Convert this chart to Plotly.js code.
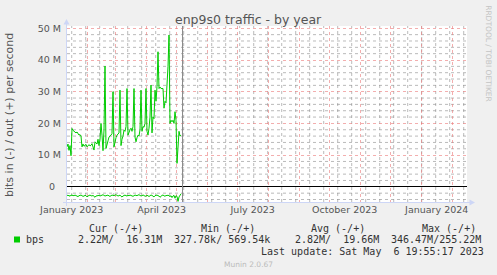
<!DOCTYPE html>
<html><head><meta charset="utf-8">
<script src="https://cdn.plot.ly/plotly-3.0.1.min.js"></script>
<style>html,body{margin:0;padding:0;background:#F0F0F0;}#chart{width:497px;height:275px;}</style>
</head><body><div id="chart"></div>
<script>
// ---- data (values in M bits/s, one per day) ----
const startDate = Date.UTC(2023, 0, 11, 7, 0);
const outBps = [
 12.6,13.5,11.5,13.0,9.8,18.4,17.8,17.5,17.2,17.0,
 17.3,16.6,16.3,16.5,16.0,12.6,13.5,12.8,13.2,13.4,
 12.6,13.0,13.3,12.9,13.1,13.6,12.5,11.6,14.2,13.8,
 13.5,15.0,13.0,15.0,20.0,16.3,11.4,18.0,38.1,12.1,
 13.0,14.5,15.7,15.9,16.3,16.8,30.0,12.6,14.5,15.5,
 16.3,16.7,17.0,30.5,13.0,15.0,16.0,17.9,17.5,19.0,
 31.0,16.3,17.5,18.0,18.5,17.5,19.0,31.0,15.7,14.2,
 15.5,16.3,16.0,18.0,30.5,17.5,19.0,18.8,20.0,31.0,
 17.5,16.3,18.5,22.0,32.1,17.0,22.0,21.5,30.5,27.0,
 31.6,42.6,31.0,31.5,31.0,31.0,31.0,24.8,27.0,26.5,
 31.0,38.0,47.9,20.0,21.0,20.5,21.0,20.0,23.7,21.0,
 7.4,15.0,17.5,16.0,16.3
];
const inBps = [
 2.6,2.8,2.7,3.0,2.6,2.7,2.9,2.8,2.6,2.7,
 2.9,3.1,2.8,2.7,2.6,2.8,3.0,2.9,2.7,2.8,
 3.2,2.9,2.7,2.6,2.8,2.9,2.7,3.1,3.3,2.9,
 2.8,2.6,2.7,2.9,2.8,2.6,2.5,2.7,2.9,2.8,
 2.7,2.6,2.9,3.0,2.8,2.6,2.7,2.8,2.6,2.5,
 2.7,2.9,2.8,2.6,3.0,3.2,2.9,2.7,2.6,2.8,
 2.9,2.7,2.8,2.6,2.7,2.9,3.0,2.8,2.6,2.7,
 2.8,2.6,2.5,2.7,2.9,2.8,2.6,2.7,3.0,2.9,
 2.7,2.8,3.1,2.8,2.6,2.7,2.9,3.2,2.8,2.7,
 2.6,2.8,2.9,3.3,2.8,2.7,2.6,2.9,3.0,2.7,
 2.8,2.6,2.9,3.1,2.8,3.4,2.9,2.7,3.6,2.8,
 3.0,4.6,3.2,2.4,2.2
];
const yTickVals = [0, 10, 20, 30, 40, 50];
const yTickText = ['0\u00a0\u00a0', '10 M', '20 M', '30 M', '40 M', '50 M'];
const xLabelDates = ['2023-01-16', '2023-04-16', '2023-07-16', '2023-10-16', '2024-01-16'];
const xLabelText = ['January 2023', 'April 2023', 'July 2023', 'October 2023', 'January 2024'];
const legendHeaders = ['Cur (-/+)', 'Min (-/+)', 'Avg (-/+)', 'Max (-/+)'];
const legendValues = ['2.22M/  16.31M', '327.78k/ 569.54k', '2.82M/  19.66M', '346.47M/255.22M'];
const seriesName = 'bps';
const lastUpdate = 'Last update: Sat May  6 19:55:17 2023';
const lastUpdateTime = Date.UTC(2023, 4, 6, 19, 55);
const titleText = 'enp9s0 traffic - by year';
const yTitleText = 'bits in (-) / out (+) per second';

// ---- layout helpers ----
const L = 67, T = 26, W = 400, H = 176;
const px = x => (x - L) / W;
const py = y => (T + H - y) / H;
const nb = s => s.replace(/ /g, '\u00a0');
const green = '#00CC00';
const DAY = 86400000;
const times = outBps.map((_, i) => startDate + i * DAY);

const traces = [
  {x: times, y: outBps, type: 'scatter', mode: 'lines', line: {color: green, width: 1}, hoverinfo: 'skip', xaxis: 'x', yaxis: 'y'},
  {x: times, y: inBps.map(v => -v), type: 'scatter', mode: 'lines', line: {color: green, width: 1}, hoverinfo: 'skip', xaxis: 'x', yaxis: 'y'}
];

const xRange = [Date.UTC(2023, 0, 11, 7), Date.UTC(2024, 1, 15, 7)];
const mgrid = 'rgba(235,120,120,0.6)';
const ngrid = 'rgba(140,140,140,0.6)';
const axisCol = '#cdd6f6';

// minor grid positions
const xMinor = [];
for (let t = Date.UTC(2023, 0, 16); t < xRange[1]; t += 14 * DAY) xMinor.push(t);
const yMinor = [-4, -2, 2, 4, 6, 8, 12, 14, 16, 18, 22, 24, 26, 28, 32, 34, 36, 38, 42, 44, 46, 48];

const monoFont = {family: 'DejaVu Sans Mono', size: 10, color: '#333'};
const hdrX = [89, 201, 311.7, 422.7];
const valX = [78.3, 174, 295, 391];
const ann = [];
ann.push({text: titleText, x: px(248.5), y: py(19.5), xref: 'paper', yref: 'paper', xanchor: 'center', yanchor: 'middle', showarrow: false, font: {family: 'DejaVu Sans', size: 12.5, color: '#555'}});
ann.push({text: yTitleText, x: px(10), y: py(115), xref: 'paper', yref: 'paper', xanchor: 'center', yanchor: 'middle', textangle: -90, showarrow: false, font: {family: 'DejaVu Sans', size: 11, color: '#555'}});
ann.push({text: 'RRDTOOL / TOBI OETIKER', x: px(488.3), y: py(53.5), xref: 'paper', yref: 'paper', xanchor: 'center', yanchor: 'middle', textangle: 90, showarrow: false, font: {family: 'DejaVu Sans', size: 7.5, color: '#c4c4c4'}});
legendHeaders.forEach((h, i) => ann.push({text: nb(h), x: px(hdrX[i] - 2.5), y: py(228), xref: 'paper', yref: 'paper', xanchor: 'left', yanchor: 'middle', showarrow: false, font: monoFont}));
ann.push({text: seriesName, x: px(26.7 - 2.5), y: py(239.5), xref: 'paper', yref: 'paper', xanchor: 'left', yanchor: 'middle', showarrow: false, font: monoFont});
legendValues.forEach((v, i) => ann.push({text: nb(v), x: px(valX[i] - 2.5), y: py(239.5), xref: 'paper', yref: 'paper', xanchor: 'left', yanchor: 'middle', showarrow: false, font: monoFont}));
ann.push({text: nb(lastUpdate), x: px(261 - 2.5), y: py(251.3), xref: 'paper', yref: 'paper', xanchor: 'left', yanchor: 'middle', showarrow: false, font: monoFont});
ann.push({text: 'Munin 2.0.67', x: px(248.3), y: py(264), xref: 'paper', yref: 'paper', xanchor: 'center', yanchor: 'middle', showarrow: false, font: {family: 'DejaVu Sans', size: 7.5, color: '#bbb'}});

const shapes = [];
// minor grid (below data)
xMinor.forEach(t => shapes.push({type: 'line', layer: 'below', xref: 'x', yref: 'paper', x0: t, x1: t, y0: 0, y1: 1, line: {color: ngrid, width: 1, dash: 'dot'}}));
yMinor.forEach(v => shapes.push({type: 'line', layer: 'below', xref: 'paper', yref: 'y', x0: 0, x1: 1, y0: v, y1: v, line: {color: ngrid, width: 1, dash: 'dot'}}));
shapes.push(
  {type: 'rect', xref: 'paper', yref: 'paper', x0: px(14), x1: px(20), y0: py(242.5), y1: py(236.5), fillcolor: green, line: {width: 0}},
  {type: 'line', xref: 'paper', yref: 'paper', x0: px(66.5), x1: px(66.5), y0: py(206), y1: py(24), line: {color: axisCol, width: 1}},
  {type: 'path', xref: 'paper', yref: 'paper', path: `M ${px(63.5)},${py(24.5)} L ${px(69.5)},${py(24.5)} L ${px(66.5)},${py(19)} Z`, fillcolor: axisCol, line: {width: 0}},
  {type: 'line', xref: 'paper', yref: 'paper', x0: px(63), x1: px(470), y0: py(202.5), y1: py(202.5), line: {color: axisCol, width: 1}},
  {type: 'path', xref: 'paper', yref: 'paper', path: `M ${px(469.5)},${py(199.5)} L ${px(469.5)},${py(205.5)} L ${px(475)},${py(202.5)} Z`, fillcolor: axisCol, line: {width: 0}},
  {type: 'line', xref: 'x', yref: 'paper', x0: lastUpdateTime, x1: lastUpdateTime, y0: 0, y1: 1, line: {color: '#888', width: 1}}
);

const layout = {
  width: 497, height: 275,
  margin: {l: L, r: 497 - L - W, t: T, b: 275 - T - H, pad: 0},
  paper_bgcolor: '#F0F0F0', plot_bgcolor: '#FFFFFF',
  showlegend: false,
  font: {family: 'DejaVu Sans', size: 9.5, color: '#555'},
  xaxis: {
    type: 'date', range: xRange, fixedrange: true,
    tickmode: 'linear', tick0: '2023-01-01', dtick: 'M1',
    showticklabels: false, ticks: '',
    showgrid: true, gridcolor: mgrid, griddash: 'dot', gridwidth: 1,
    zeroline: false, showline: false
  },
  xaxis2: {
    type: 'date', range: xRange, overlaying: 'x', anchor: 'y', side: 'bottom', fixedrange: true,
    tickmode: 'array', tickvals: xLabelDates, ticktext: xLabelText,
    ticks: '', showgrid: false, zeroline: false, showline: false,
    tickfont: {family: 'DejaVu Sans', size: 9.5, color: '#555'}
  },
  yaxis: {
    range: [-4.79, 50.73], fixedrange: true,
    tickmode: 'array', tickvals: yTickVals, ticktext: yTickText,
    ticks: '', ticklabelstandoff: 5,
    tickfont: {family: 'DejaVu Sans', size: 9.5, color: '#555'},
    showgrid: true, gridcolor: mgrid, griddash: 'dot', gridwidth: 1,
    zeroline: true, zerolinecolor: '#000', zerolinewidth: 1.2,
    showline: false
  },
  annotations: ann,
  shapes: shapes
};
traces.push({x: [xRange[0]], y: [0], xaxis: 'x2', yaxis: 'y', mode: 'markers', marker: {opacity: 0}, hoverinfo: 'skip'});

Plotly.newPlot('chart', traces, layout, {staticPlot: true, displayModeBar: false});
</script></body></html>
